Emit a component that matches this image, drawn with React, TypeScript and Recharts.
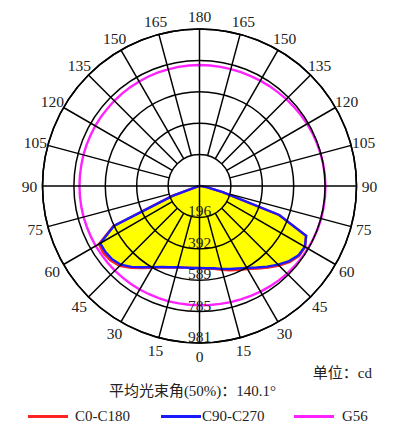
import React from "react";
import {
  RadarChart,
  Radar,
  PolarAngleAxis,
  PolarRadiusAxis,
  Legend,
} from "recharts";

// gamma 0..90 in 5 deg steps, values in cd
const gammaSteps = [0, 5, 10, 15, 20, 25, 30, 35, 40, 45, 50, 55, 60, 65, 70, 75, 80, 85, 90];
const c0 = [514, 517, 525, 542, 560, 577, 600, 630, 666, 703, 738, 760, 762, 735, 530, 150, 50, 12, 0];
const c180 = [512, 514, 518, 527, 542, 561, 590, 626, 668, 706, 725, 732, 726, 595, 180, 10, 3, 1, 0];
const c90 = [512, 515, 522, 536, 552, 568, 592, 622, 658, 695, 730, 755, 760, 735, 530, 150, 50, 12, 0];
const c270 = [512, 514, 518, 526, 540, 558, 585, 620, 660, 695, 712, 718, 716, 590, 180, 10, 3, 1, 0];

// G56 cone, C angle 0..180 in 5 deg steps, right and left half
const g56Right = [
  745, 746, 748, 751, 754, 758, 762, 766, 770, 774, 777, 780, 782, 784, 786, 787, 787, 787, 787,
  786, 785, 783, 781, 779, 776, 773, 770, 767, 764, 762, 760, 758, 757, 756, 756, 756, 756,
];
const g56Left = [
  745, 745, 745, 746, 746, 746, 747, 747, 747, 748, 748, 748, 749, 749, 749, 750, 750, 750, 750,
  750, 750, 751, 751, 751, 752, 752, 752, 753, 753, 754, 754, 755, 755, 755, 756, 756, 756,
];

const angleTicks = [0, 15, 30, 45, 60, 75, 90, 105, 120, 135, 150, 165, 180, 195, 210, 225, 240, 255, 270, 285, 300, 315, 330, 345];
const maxCd = 981;
const radiusTicks = [196.2, 392.4, 588.6, 784.8, 981];

const CX = 199.5;
const CY = 186;
const R = 157;
const FONT = "'Liberation Serif', 'Noto Sans CJK SC', serif";

const rows: { angle: number; red: number; blue: number; g56: number }[] = [];
for (let v = 0; v < 360; v += 5) {
  const right = v <= 180;
  const g = right ? v : 360 - v;
  const i = gammaSteps.indexOf(g);
  rows.push({
    angle: v,
    red: i >= 0 ? (right ? c0[i] : c180[i]) : 0,
    blue: i >= 0 ? (right ? c90[i] : c270[i]) : 0,
    g56: right ? g56Right[g / 5] : g56Left[g / 5],
  });
}

const pt = (r: number, deg: number) => {
  const rad = (-deg * Math.PI) / 180;
  return { x: CX + r * Math.cos(rad), y: CY + r * Math.sin(rad) };
};

// angle ticks: spoke (from first ring, or from centre for the axes) + label
const AngleTick = (props: any) => {
  const { payload } = props;
  const v = payload.value;
  const a = payload.coordinate;
  const label = v <= 180 ? v : 360 - v;
  const p1 = pt(v % 90 === 0 ? 0 : R / 5, a);
  const p2 = pt(R, a);
  const t = pt(R + 13, a);
  return (
    <g>
      <line x1={p1.x} y1={p1.y} x2={p2.x} y2={p2.y} stroke="#000" strokeWidth={1.5} />
      <text
        x={t.x}
        y={t.y}
        textAnchor="middle"
        dominantBaseline="central"
        fontSize={15.5}
        fontFamily={FONT}
        fill="#222"
      >
        {label}
      </text>
    </g>
  );
};

// radius ticks: ring + value label sitting on the ring
const RadiusTick = (props: any) => {
  const { x, y, payload } = props;
  const r = Math.hypot(x - CX, y - CY);
  return (
    <g>
      <circle cx={CX} cy={CY} r={r} fill="none" stroke="#000" strokeWidth={1.5} />
      <text x={x} y={y - 1} textAnchor="middle" fontSize={15.5} fontFamily={FONT} fill="#222">
        {Math.round(payload.value)}
      </text>
    </g>
  );
};

const legendTextGap = [7, 1, 8];

const LegendContent = ({ payload }: any) => (
  <div style={{ position: "relative", width: 370, height: 20, fontFamily: FONT, fontSize: 15, color: "#222" }}>
    {(payload ?? []).map((e: any, i: number) => (
      <div
        key={i}
        style={{ position: "absolute", left: 28 + i * 133, top: 0, width: 120, height: 20, display: "flex", alignItems: "center", whiteSpace: "nowrap" }}
      >
        <span style={{ display: "inline-block", width: 40, height: 3, background: e.color }} />
        <span style={{ marginLeft: legendTextGap[i] ?? 7 }}>{e.value}</span>
      </div>
    ))}
  </div>
);

export default function App() {
  return (
    <div style={{ position: "absolute", left: 0, top: 0, width: 393, height: 440, background: "#fff", overflow: "hidden" }}>
      <RadarChart
        width={393}
        height={440}
        data={rows}
        cx={CX}
        cy={CY}
        outerRadius={R}
        startAngle={-90}
        endAngle={270}
        margin={{ top: 0, right: 0, bottom: 0, left: 0 }}
      >
        <Radar
          dataKey="blue"
          stroke="none"
          fill="#ffff00"
          fillOpacity={1}
          legendType="none"
          isAnimationActive={false}
        />
        <PolarAngleAxis
          dataKey="angle"
          type="number"
          domain={[0, 360]}
          ticks={angleTicks}
          axisLineType="circle"
          axisLine={{ stroke: "#000", strokeWidth: 1.6 }}
          tickLine={false}
          tick={AngleTick}
        />
        <PolarRadiusAxis
          angle={-90}
          type="number"
          domain={[0, maxCd]}
          ticks={radiusTicks}
          axisLine={false}
          tickLine={false}
          tick={RadiusTick}
        />
        <Radar name="C0-C180" dataKey="red" stroke="#ff2222" strokeWidth={2.4} fill="none" fillOpacity={0} dot={false} isAnimationActive={false} />
        <Radar name="C90-C270" dataKey="blue" stroke="#1a1aff" strokeWidth={2.4} fill="none" fillOpacity={0} dot={false} isAnimationActive={false} />
        <Radar name="G56" dataKey="g56" stroke="#ff22ff" strokeWidth={2.4} fill="none" fillOpacity={0} dot={false} isAnimationActive={false} />
        <Legend
          content={LegendContent}
          wrapperStyle={{ position: "absolute", left: 0, top: 406, width: 370, height: 20 }}
        />
      </RadarChart>
      <div style={{ position: "absolute", right: 21, top: 361, fontFamily: FONT, fontSize: 15, color: "#222", whiteSpace: "nowrap" }}>
        单位：cd
      </div>
      <div style={{ position: "absolute", left: 0, width: 385, top: 379, textAlign: "center", fontFamily: FONT, fontSize: 15, color: "#222", whiteSpace: "nowrap" }}>
        平均光束角(50%)：140.1°
      </div>
    </div>
  );
}
